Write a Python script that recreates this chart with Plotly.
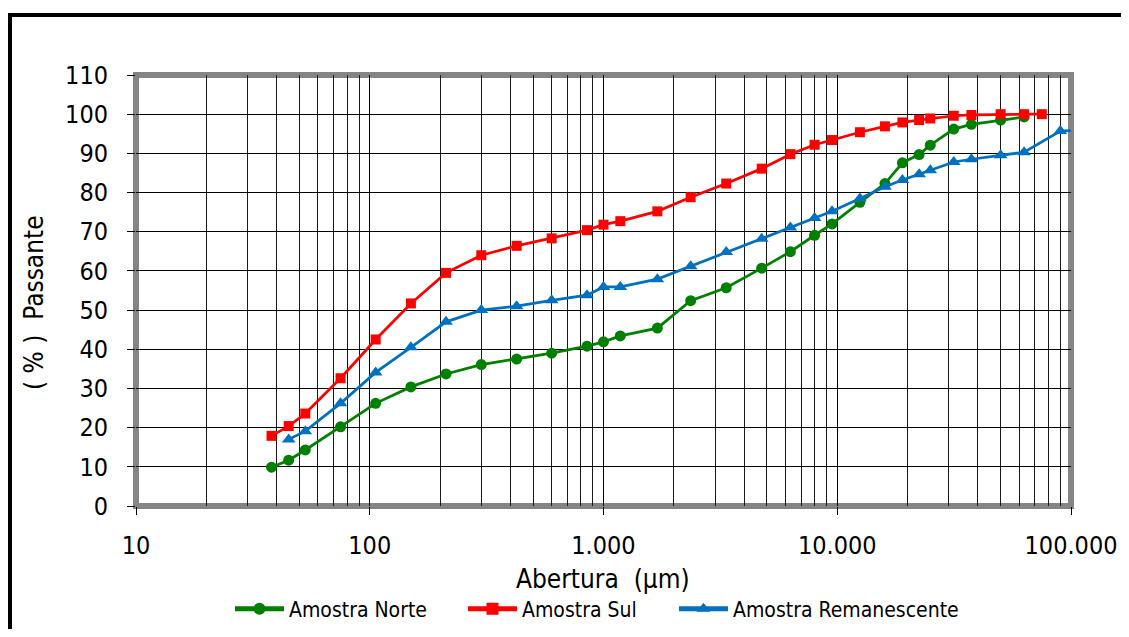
import plotly.graph_objects as go

# ---- data ----
sizes_norte = [38, 45, 53, 75, 106, 150, 212, 300, 425, 600, 850, 1000, 1180, 1700, 2360, 3350,
               4750, 6300, 8000, 9500, 12500, 16000, 19000, 22400, 25000, 31500, 37500, 50000, 63000]
passante_norte = [9.9, 11.7, 14.3, 20.2, 26.2, 30.4, 33.7, 36.1, 37.5, 39.0, 40.8, 41.9, 43.4, 45.4,
                  52.4, 55.7, 60.7, 64.9, 69.1, 72.0, 77.5, 82.3, 87.6, 89.7, 92.1, 96.2, 97.4, 98.5, 99.3]

sizes_sul = [38, 45, 53, 75, 106, 150, 212, 300, 425, 600, 850, 1000, 1180, 1700, 2360, 3350,
             4750, 6300, 8000, 9500, 12500, 16000, 19000, 22400, 25000, 31500, 37500, 50000, 63000, 75000]
passante_sul = [17.9, 20.4, 23.6, 32.6, 42.5, 51.7, 59.5, 64.0, 66.4, 68.3, 70.4, 71.8, 72.7, 75.2,
                78.8, 82.3, 86.1, 89.8, 92.2, 93.4, 95.4, 96.9, 97.9, 98.5, 98.9, 99.6, 99.8, 100, 100, 100]

sizes_rem = [45, 53, 75, 106, 150, 212, 300, 425, 600, 850, 1000, 1180, 1700, 2360, 3350, 4750,
             6300, 8000, 9500, 12500, 16000, 19000, 22400, 25000, 31500, 37500, 50000, 63000, 90000, 120000]
passante_rem = [17.0, 19.1, 26.2, 34.1, 40.5, 47.0, 50.0, 51.0, 52.5, 53.8, 55.9, 55.9, 57.9, 61.2,
                64.8, 68.2, 71.1, 73.5, 75.2, 78.5, 81.5, 83.2, 84.7, 85.7, 87.8, 88.5, 89.5, 90.3, 95.7, 96.0]

series_names = ["Amostra Norte", "Amostra Sul", "Amostra Remanescente"]
x_tick_vals = [10, 100, 1000, 10000, 100000]
x_tick_text = ["10", "100", "1.000", "10.000", "100.000"]
x_minor_vals = [m * d for d in [10, 100, 1000, 10000] for m in range(2, 10)]
x_title = "Abertura\u00a0 (µm)"
y_title = "(\u00a0%\u00a0)\u00a0 Passante"

# ---- layout constants (page coordinates; page body has an 8px margin on all sides) ----
OFF = 8
PAGE_W, PAGE_H = 1129, 637
W, H = PAGE_W - 2 * OFF, PAGE_H - 2 * OFF     # keep the page inside the viewport (no scrollbars)
PL, PR, PT, PB = 136, 1071, 75, 506           # plot area edges in page pixels
ML, MR, MT, MB = PL - OFF, (OFF + W) - PR, PT - OFF, (OFF + H) - PB
PW, PH = PR - PL, PB - PT


def px(xp):
    return (xp - PL) / PW


def py(yp):
    return (PB - yp) / PH


def cx(xp):   # page x -> container fraction
    return (xp - OFF) / W


def cy(yp):   # page y -> container fraction
    return 1 - (yp - OFF) / H


FONT = "DejaVu Sans Condensed, DejaVu Sans, sans-serif"

styles = [
    dict(color="#008000", symbol="circle", size=11),
    dict(color="#FF0000", symbol="square", size=10),
    dict(color="#0070C0", symbol="triangle-up", size=12),
]
xs = [sizes_norte, sizes_sul, sizes_rem]
ys = [passante_norte, passante_sul, passante_rem]
legend_ids = ["legend", "legend2", "legend3"]

fig = go.Figure()
for i in range(3):
    st = styles[i]
    fig.add_trace(go.Scatter(x=xs[i], y=ys[i], name=series_names[i], mode="lines+markers",
                             legend=legend_ids[i],
                             line=dict(color=st["color"], width=2.75),
                             marker=dict(symbol=st["symbol"], size=st["size"], color=st["color"])))

legend_common = dict(orientation="h", xref="container", yref="container",
                     yanchor="middle", y=cy(609), xanchor="left",
                     font=dict(family=FONT, size=21, color="black"), itemwidth=49,
                     bgcolor="rgba(0,0,0,0)", borderwidth=0, itemsizing="constant")
legend_x = [230, 463, 674]

fig.update_layout(
    width=W, height=H, autosize=False,
    margin=dict(l=ML, r=MR, t=MT, b=MB, pad=0, autoexpand=False),
    paper_bgcolor="white", plot_bgcolor="white",
    font=dict(family=FONT, color="black", size=20),
    showlegend=True,
    legend=dict(legend_common, x=cx(legend_x[0])),
    legend2=dict(legend_common, x=cx(legend_x[1])),
    legend3=dict(legend_common, x=cx(legend_x[2])),
    xaxis=dict(type="log", range=[1, 5], tickmode="array", tickvals=x_tick_vals, ticktext=x_tick_text,
               ticks="outside", ticklen=8, tickcolor="black", tickwidth=1,
               showgrid=True, gridcolor="black", gridwidth=1,
               minor=dict(tickmode="array", tickvals=x_minor_vals, showgrid=True, gridcolor="#1a1a1a",
                          gridwidth=1, ticks=""),
               tickfont=dict(family=FONT, size=25, color="black"), automargin=False,
               showline=False, zeroline=False, ticklabelstandoff=9),
    yaxis=dict(range=[0, 110], tickmode="linear", tick0=0, dtick=10,
               ticks="outside", ticklen=8, tickcolor="black", tickwidth=1,
               showgrid=True, gridcolor="black", gridwidth=1,
               tickfont=dict(family=FONT, size=25, color="black"), automargin=False,
               showline=False, zeroline=False, ticklabelstandoff=14),
)

# plot-area frame (gray)
fig.add_shape(type="rect", xref="paper", yref="paper", x0=0, x1=1, y0=0, y1=1,
              line=dict(color="#858585", width=6), layer="between")
# outer black frame (left and top edges visible)
fig.add_shape(type="line", xref="paper", yref="paper", x0=px(9.5), x1=px(9.5), y0=py(13), y1=py(700),
              line=dict(color="black", width=5))
fig.add_shape(type="line", xref="paper", yref="paper", x0=px(7), x1=px(1200), y0=py(15), y1=py(15),
              line=dict(color="black", width=4))

# axis titles
fig.add_annotation(text=x_title, xref="paper", yref="paper", x=px(603), y=py(579),
                   xanchor="center", yanchor="middle", showarrow=False,
                   font=dict(family=FONT, size=26, color="black"))
fig.add_annotation(text=y_title, xref="paper", yref="paper", x=px(34), y=py(303),
                   xanchor="center", yanchor="middle", showarrow=False, textangle=-90,
                   font=dict(family=FONT, size=26, color="black"))

fig.write_html("out.html")
